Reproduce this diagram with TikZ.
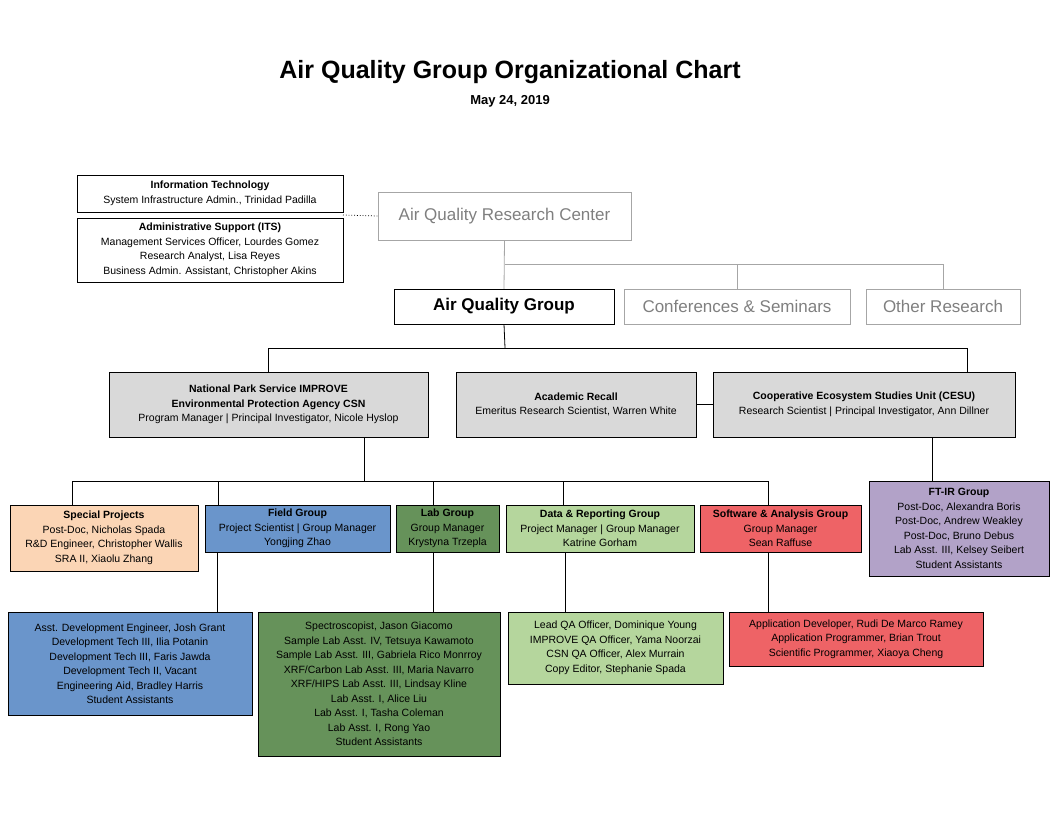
\documentclass[tikz,border=0pt]{standalone}
\usepackage{fontspec}
\setmainfont{Liberation Sans}
\usetikzlibrary{positioning,calc}
\definecolor{hdgray}{HTML}{D9D9D9}
\definecolor{lngray}{HTML}{A6A6A6}
\definecolor{txgray}{HTML}{7F7F7F}
\definecolor{peach}{HTML}{FBD5B5}
\definecolor{fieldblue}{HTML}{6A95CB}
\definecolor{labgreen}{HTML}{66925A}
\definecolor{datagreen}{HTML}{B5D69D}
\definecolor{softred}{HTML}{EE6366}
\definecolor{ftpurple}{HTML}{B2A2C8}

\begin{document}
\begin{tikzpicture}[x=1pt,y=-1pt]
	\tikzstyle{org_box}=[draw, rectangle, align=center, inner sep=1pt, font=\fontsize{10.5}{14.5}\selectfont];
	\tikzstyle{big_box}=[draw=lngray, rectangle, align=center, text=txgray, font=\fontsize{17}{20}\selectfont];
	\tikzstyle{link}=[black, line width=0.8pt];
	\tikzstyle{glink}=[lngray, line width=0.8pt];

	\useasboundingbox (0,0) rectangle (1056,816);

	\node[font=\bfseries\fontsize{25}{28}\selectfont] (title) at (510,72) {Air Quality Group Organizational Chart};
	\node[font=\bfseries\fontsize{13}{15}\selectfont] (date) at (510,101) {May 24, 2019};

	% center and support
	\node[org_box, minimum width=266, minimum height=37] (it) at (210,193.5) {\textbf{Information Technology}\\System Infrastructure Admin., Trinidad Padilla};
	\node[org_box, minimum width=266, minimum height=64] (admin) at (210,250) {\textbf{Administrative  Support (ITS)}\\Management Services Officer, Lourdes Gomez\\Research Analyst, Lisa Reyes\\Business Admin. Assistant, Christopher Akins};
	\node[big_box, minimum width=253, minimum height=48] (aqrc) at (504.5,216) {Air Quality Research Center};
	\node[draw, rectangle, align=center, font=\bfseries\fontsize{17}{20}\selectfont, minimum width=220, minimum height=35] (aqg) at (504,306.5) {Air Quality Group};
	\node[big_box, minimum width=226, minimum height=35] (conf) at (737,306.5) {Conferences \& Seminars};
	\node[big_box, minimum width=154, minimum height=35] (other) at (943,306.5) {Other Research};

	\draw[dotted, line width=0.8pt] (343,215) -- (aqrc.west);
	\coordinate (g_bus) at (505,264);
	\draw[glink] (aqrc.south) -- (aqg.north);
	\draw[glink] (g_bus) -| (conf.north);
	\draw[glink] (g_bus) -| (other.north);

	% programs
	\node[org_box, fill=hdgray, minimum width=319, minimum height=65] (nps) at (268.5,404.5) {\textbf{National Park Service IMPROVE}\\\textbf{Environmental Protection Agency CSN}\\Program Manager | Principal Investigator, Nicole Hyslop};
	\node[org_box, fill=hdgray, minimum width=240, minimum height=65] (acad) at (576,404.5) {\textbf{Academic Recall}\\Emeritus Research Scientist, Warren White};
	\node[org_box, fill=hdgray, minimum width=302, minimum height=65] (cesu) at (864,404.5) {\textbf{Cooperative Ecosystem Studies Unit (CESU)}\\Research Scientist | Principal Investigator, Ann Dillner};

	\coordinate (p_bus) at (505,348);
	\coordinate (p_l) at (268,348);
	\coordinate (p_r) at (967,348);
	\draw[link] (aqg.south) -- (p_bus);
	\draw[link] (p_l) -- (p_r);
	\draw[link] (p_l) -- (p_l|-nps.north);
	\draw[link] (p_r) -- (p_r|-cesu.north);
	\draw[link] (acad.east) -- (cesu.west);

	% groups
	\node[org_box, fill=peach, minimum width=188, minimum height=66] (special) at (104,538) {\textbf{Special Projects}\\Post-Doc, Nicholas Spada\\R\&D Engineer, Christopher Wallis\\SRA II,  Xiaolu Zhang};
	\node[org_box, fill=fieldblue, minimum width=185, minimum height=47] (field) at (297.5,528.5) {\textbf{Field  Group}\\Project Scientist | Group Manager\\Yongjing Zhao};
	\node[org_box, fill=labgreen, minimum width=103, minimum height=47] (lab) at (447.5,528.5) {\textbf{Lab Group}\\Group Manager\\Krystyna Trzepla};
	\node[org_box, fill=datagreen, minimum width=188, minimum height=47] (data) at (600,528.5) {\textbf{Data \& Reporting  Group}\\Project Manager |  Group Manager\\Katrine Gorham};
	\node[org_box, fill=softred, minimum width=161, minimum height=47] (soft) at (780.5,528.5) {\textbf{Software \& Analysis Group}\\Group Manager\\Sean Raffuse};
	\node[org_box, fill=ftpurple, minimum width=180, minimum height=95] (ftir) at (959,528.5) {\textbf{FT-IR  Group}\\Post-Doc, Alexandra Boris\\Post-Doc, Andrew Weakley\\Post-Doc, Bruno Debus\\Lab Asst. III,  Kelsey Seibert\\Student Assistants};

	\coordinate (s_top) at (364,481);
	\coordinate (s_l) at (72,481);
	\coordinate (s_r) at (768,481);
	\draw[link] (nps.south-|s_top) -- (s_top);
	\draw[link] (s_l) -- (s_r);
	\foreach \xx/\grp in {72/special, 218/field, 433/lab, 563/data, 768/soft}
		\draw[link] (\xx,481) -- (\xx,505);
	\draw[link] (cesu.south-|932,0) -- (ftir.north-|932,0);

	% staff
	\node[org_box, fill=fieldblue, minimum width=244, minimum height=103] (field_s) at (130,663.5) {Asst. Development Engineer, Josh Grant\\Development Tech III,  Ilia Potanin\\Development Tech III,  Faris Jawda\\Development Tech II, Vacant\\Engineering Aid, Bradley Harris\\Student Assistants};
	\node[org_box, fill=labgreen, minimum width=242, minimum height=144] (lab_s) at (379,684) {Spectroscopist, Jason Giacomo\\Sample Lab Asst. IV,  Tetsuya Kawamoto\\Sample Lab Asst. III,  Gabriela Rico Monrroy\\XRF/Carbon Lab Asst. III,  Maria Navarro\\XRF/HIPS  Lab Asst. III,  Lindsay Kline\\Lab Asst. I, Alice Liu\\Lab Asst. I,  Tasha Coleman\\Lab Asst. I, Rong Yao\\Student Assistants};
	\node[org_box, fill=datagreen, minimum width=215, minimum height=72] (data_s) at (615.5,648) {Lead QA Officer,  Dominique Young\\IMPROVE  QA Officer,  Yama Noorzai\\CSN QA  Officer,  Alex  Murrain\\Copy Editor, Stephanie Spada};
	\node[org_box, fill=softred, minimum width=254, minimum height=54] (soft_s) at (856,639) {Application Developer, Rudi De Marco Ramey\\Application Programmer, Brian Trout\\Scientific Programmer, Xiaoya Cheng};

	\foreach \xx in {217, 433, 565, 768}
		\draw[link] (\xx,552) -- (\xx,612);
\end{tikzpicture}
\end{document}
